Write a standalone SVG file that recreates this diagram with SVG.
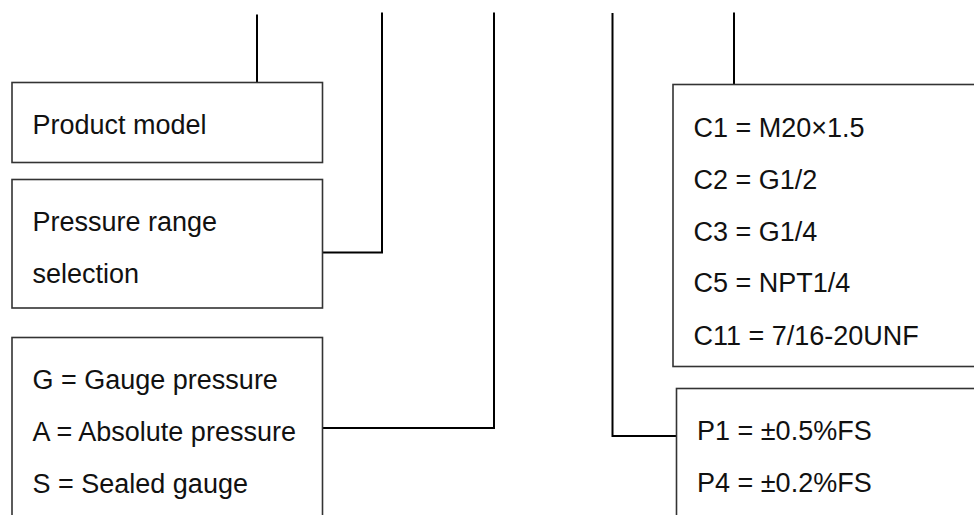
<svg xmlns="http://www.w3.org/2000/svg" width="974" height="515" viewBox="0 0 974 515">
<style>
.box{fill:#fff;stroke:#333;stroke-width:1.6}
.ln{fill:none;stroke:#000;stroke-width:2}
text{font-family:"Liberation Sans",Arial,sans-serif;font-size:27px;fill:#111}
</style>
<rect width="974" height="515" fill="#fff"/>
<g id="connectors">
<path class="ln" d="M257 14.5V82"/>
<path class="ln" d="M382 12.5V252.5H323"/>
<path class="ln" d="M494 12.5V428H323"/>
<path class="ln" d="M612.5 13V436H676"/>
<path class="ln" d="M734 12.5V84"/>
</g>
<g id="product-model">
<rect class="box" x="12" y="82.5" width="310.5" height="80"/>
<text x="32.5" y="134">Product model</text>
</g>
<g id="pressure-range">
<rect class="box" x="12" y="179.5" width="310.5" height="128.5"/>
<text x="32.5" y="230.5">Pressure range</text>
<text x="32.5" y="282.5">selection</text>
</g>
<g id="pressure-type">
<rect class="box" x="12" y="337.5" width="310.5" height="200"/>
<text x="32.5" y="389">G = Gauge pressure</text>
<text x="32.5" y="440.5">A = Absolute pressure</text>
<text x="32.5" y="492.5">S = Sealed gauge</text>
</g>
<g id="connection">
<rect class="box" x="673" y="84.5" width="320" height="282"/>
<text x="693.5" y="137">C1 = M20×1.5</text>
<text x="693.5" y="189">C2 = G1/2</text>
<text x="693.5" y="240.5">C3 = G1/4</text>
<text x="693.5" y="292">C5 = NPT1/4</text>
<text x="693.5" y="345">C11 = 7/16-20UNF</text>
</g>
<g id="accuracy">
<rect class="box" x="676.5" y="388.5" width="320" height="150"/>
<text x="697" y="439.5">P1 = ±0.5%FS</text>
<text x="697" y="491.5">P4 = ±0.2%FS</text>
</g>
</svg>
